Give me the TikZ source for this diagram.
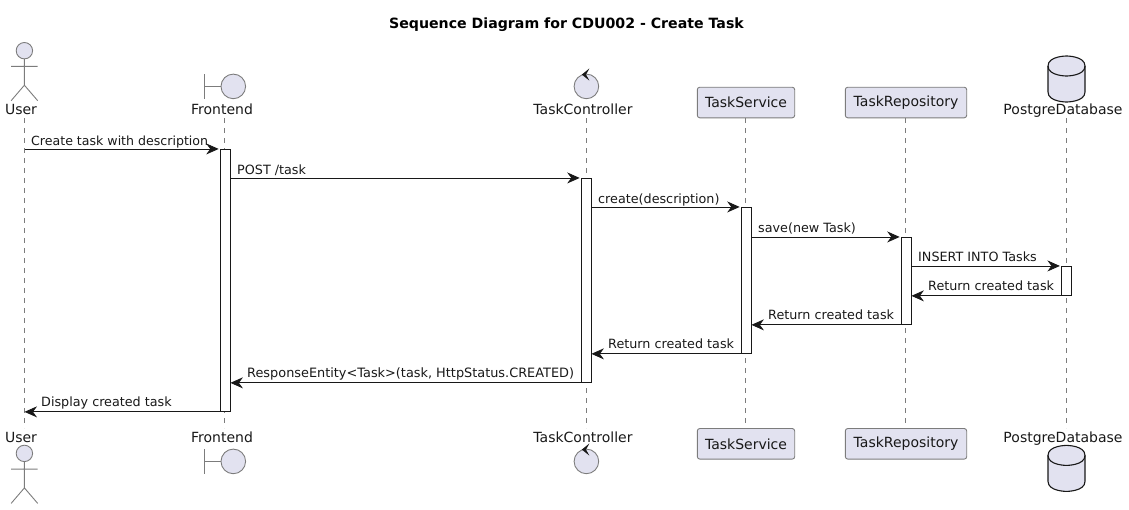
\documentclass[tikz,border=0pt]{standalone}
\usepackage{fontspec}
\setmainfont{DejaVu Sans}
\usetikzlibrary{arrows.meta}
\definecolor{lav}{HTML}{E2E2F0}
\definecolor{ink}{HTML}{181818}
\definecolor{edge}{HTML}{7C7C7C}
\tikzset{
  x=1pt,y=-1pt,
  lifeline/.style={draw=edge,line width=0.7pt,dash pattern=on 5pt off 5pt},
  act/.style={draw=ink,fill=white,line width=0.9pt,inner sep=0pt,minimum width=10.3pt},
  msg/.style={draw=ink,line width=0.9pt,-{Stealth[length=12.5pt,width=11pt,inset=4pt,color=ink]}},
  msgtext/.style={font=\fontsize{12.75}{15}\selectfont,text=ink,inner sep=0pt,anchor=base west},
  partext/.style={font=\fontsize{14}{16}\selectfont,text=ink,inner sep=0pt,anchor=base},
  partbox/.style={draw=edge,fill=lav,line width=0.9pt,rounded corners=2.5pt,inner sep=0pt,minimum height=30.6pt,font=\fontsize{14}{16}\selectfont,text=ink},
  figline/.style={draw=edge,line width=0.9pt},
  figfill/.style={draw=edge,fill=lav,line width=0.9pt},
  actorfig/.pic={
    \path[figfill] (0,0) circle[radius=8.2];
    \path[figline] (0,8.2) -- (0,34.5) (-13.3,15.7) -- (13.3,15.7) (-13.3,50) -- (0,34.5) -- (13.3,50);
  },
  boundaryfig/.pic={
    \path[figline] (-20.2,-12.3) -- (-20.2,12.2) (-20.2,0) -- (-3.5,0);
    \path[figfill] (8.8,0) circle[radius=12.3];
  },
  controlfig/.pic={
    \path[figfill] (0,0) circle[radius=12.3];
    \fill[ink] (-4.6,-11.8) -- (3,-18) -- (-0.4,-11.8) -- (3,-5.8) -- cycle;
  },
  dbfig/.pic={
    \path[draw=ink,fill=lav,line width=1.1pt] (-18.5,10) .. controls (-18.5,0) and (0,0) .. (0,0) .. controls (0,0) and (18.5,0) .. (18.5,10) -- (18.5,36) .. controls (18.5,46) and (0,46) .. (0,46) .. controls (0,46) and (-18.5,46) .. (-18.5,36) -- cycle;
    \path[draw=ink,line width=1.1pt] (-18.5,10) .. controls (-18.5,20) and (0,20) .. (0,20) .. controls (0,20) and (18.5,20) .. (18.5,10);
  }
}
\begin{document}
\begin{tikzpicture}
\useasboundingbox (0,0) rectangle (1129,509);
% title
\node[font=\fontsize{14.15}{16}\selectfont\bfseries,text=black,inner sep=0pt,anchor=base] (title) at (566.5,28.2) {Sequence Diagram for CDU002 - Create Task};
% lifeline ends
\coordinate (u1) at (24.5,118);   \coordinate (u2) at (24.5,428);
\coordinate (f1) at (224.5,118);  \coordinate (f2) at (224.5,428);
\coordinate (c1) at (586.5,118);  \coordinate (c2) at (586.5,428);
\coordinate (s1) at (745.5,118);  \coordinate (s2) at (745.5,428);
\coordinate (r1) at (905.5,118);  \coordinate (r2) at (905.5,428);
\coordinate (d1) at (1066.5,118); \coordinate (d2) at (1066.5,428);
\foreach \n in {u,f,c,s,r,d} \draw[lifeline] (\n1) -- (\n2);
% participants top
\pic at (24.4,50.7) {actorfig};
\node[partext] (userT) at (21,114.6) {User};
\pic at (224.5,86.4) {boundaryfig};
\node[partext] (frontT) at (222,114.6) {Frontend};
\pic at (586.4,86.4) {controlfig};
\node[partext] (ctrlT) at (583,114.6) {TaskController};
\node[partbox,minimum width=97.4pt] (svcT) at (746,102.5) {TaskService};
\node[partbox,minimum width=121.4pt] (repoT) at (906,102.5) {TaskRepository};
\pic at (1066.5,56) {dbfig};
\node[partext] (dbT) at (1063,114.6) {PostgreDatabase};
% participants bottom
\node[partext] (userB) at (21,442.3) {User};
\pic at (24.4,453.4) {actorfig};
\node[partext] (frontB) at (222,442.3) {Frontend};
\pic at (224.5,461.4) {boundaryfig};
\node[partext] (ctrlB) at (583,442.3) {TaskController};
\pic at (586.4,461.4) {controlfig};
\node[partbox,minimum width=97.4pt] (svcB) at (746,443.8) {TaskService};
\node[partbox,minimum width=121.4pt] (repoB) at (906,443.8) {TaskRepository};
\node[partext] (dbB) at (1063,442.3) {PostgreDatabase};
\pic at (1066.5,445.4) {dbfig};
% activations
\node[act,minimum height=262pt] (a1) at (225.3,280.4) {};
\node[act,minimum height=204pt] (a2) at (586.3,280.4) {};
\node[act,minimum height=146pt] (a3) at (746.3,280.4) {};
\node[act,minimum height=87pt] (a4) at (906.3,280.9) {};
\node[act,minimum height=29pt] (a5) at (1066.5,280.9) {};
% messages
\draw[msg,shorten >=1pt] (u1 |- a1.north) -- (a1.north west);
\draw[msg,shorten >=1pt] (a1.east |- a2.north) -- (a2.north west);
\draw[msg,shorten >=1pt] (a2.east |- a3.north) -- (a3.north west);
\draw[msg,shorten >=1pt] (a3.east |- a4.north) -- (a4.north west);
\draw[msg,shorten >=1pt] (a4.east |- a5.north) -- (a5.north west);
\draw[msg,shorten >=-0.5pt] (a5.south west) -- (a4.east |- a5.south);
\draw[msg,shorten >=-0.5pt] (a4.south west) -- (a3.east |- a4.south);
\draw[msg,shorten >=-0.5pt] (a3.south west) -- (a2.east |- a3.south);
\draw[msg,shorten >=-0.5pt] (a2.south west) -- (a1.east |- a2.south);
\draw[msg] (a1.south west) -- (u1 |- a1.south);
% message labels
\node[msgtext,font=\fontsize{12.58}{15}\selectfont] (t1) at (31,145.8) {Create task with description};
\node[msgtext] (t2) at (237,174.8) {POST /task};
\node[msgtext] (t3) at (598,203.6) {create(description)};
\node[msgtext] (t4) at (758,232.6) {save(new Task)};
\node[msgtext] (t5) at (918,261.6) {INSERT INTO Tasks};
\node[msgtext] (t6) at (928,290.6) {Return created task};
\node[msgtext] (t7) at (768,319.6) {Return created task};
\node[msgtext] (t8) at (608,348.6) {Return created task};
\node[msgtext,font=\fontsize{12.87}{15}\selectfont] (t9) at (247,377.8) {ResponseEntity<Task>(task, HttpStatus.CREATED)};
\node[msgtext] (t10) at (41,406.8) {Display created task};
\end{tikzpicture}
\end{document}
